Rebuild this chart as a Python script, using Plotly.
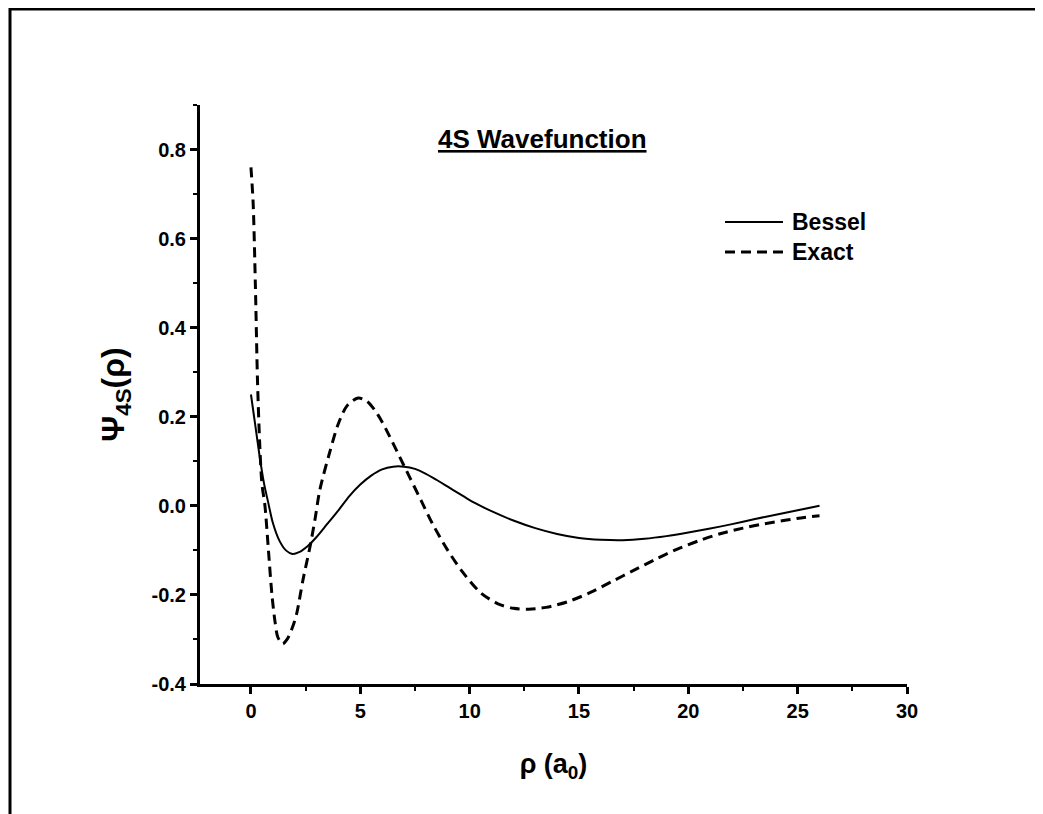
import plotly.graph_objects as go

# Bessel approximation (solid)
bessel_x = [0, 0.2, 0.4, 0.6, 0.8, 1.0, 1.3, 1.6, 1.9, 2.2, 2.6, 3.0, 3.5, 4.0, 4.5,
            5.0, 5.5, 6.0, 6.5, 7.0, 7.5, 8.0, 8.5, 9.0, 9.5, 10.0, 10.5, 11.0, 12.0,
            13.0, 14.0, 15.0, 16.0, 17.0, 18.0, 19.0, 20.0, 21.0, 22.0, 23.0, 24.0,
            25.0, 26.0]
bessel_y = [0.25, 0.18, 0.11, 0.05, 0.005, -0.038, -0.078, -0.100, -0.108, -0.104,
            -0.090, -0.070, -0.040, -0.010, 0.022, 0.048, 0.068, 0.082, 0.088, 0.088,
            0.083, 0.072, 0.058, 0.043, 0.028, 0.013, 0.000, -0.012, -0.033, -0.050,
            -0.063, -0.072, -0.076, -0.077, -0.074, -0.068, -0.060, -0.051, -0.041,
            -0.030, -0.020, -0.010, 0.000]

# Exact wavefunction (dashed)
exact_x = [0, 0.1, 0.2, 0.3, 0.4, 0.5, 0.64, 0.8, 0.96, 1.1, 1.23, 1.45, 1.65, 1.92,
           2.1, 2.38, 2.7, 2.93, 3.15, 3.6, 4.0, 4.4, 4.9, 5.3, 5.8, 6.3, 6.8, 7.3,
           7.8, 8.3, 9.0, 9.7, 10.5, 11.3, 12.0, 12.7, 13.5, 14.5, 15.5, 16.5, 17.5,
           18.5, 19.5, 20.5, 21.5, 22.5, 23.5, 24.5, 25.3, 26.0]
exact_y = [0.76, 0.68, 0.50, 0.28, 0.14, 0.05, 0.0, -0.10, -0.20, -0.26, -0.295,
           -0.310, -0.300, -0.270, -0.240, -0.166, -0.092, -0.030, 0.036, 0.120,
           0.185, 0.225, 0.242, 0.235, 0.205, 0.160, 0.110, 0.060, 0.010, -0.040,
           -0.100, -0.150, -0.195, -0.220, -0.230, -0.232, -0.228, -0.215, -0.195,
           -0.170, -0.145, -0.120, -0.097, -0.078, -0.062, -0.050, -0.040, -0.032,
           -0.026, -0.022]

series_names = ["Bessel", "Exact"]
x_tickvals = [0, 5, 10, 15, 20, 25, 30]
y_tickvals = [-0.4, -0.2, 0.0, 0.2, 0.4, 0.6, 0.8]
y_ticktext = ["-0.4", "-0.2", "0.0", "0.2", "0.4", "0.6", "0.8"]

FONT = "Liberation Sans, Arial, sans-serif"
DASH = "10px,6px"

# page body has an 8px margin; work in screen pixels and subtract it
OFF = 8
W, H = 1043 - OFF, 814 - OFF
L, R, T, B = 200 - OFF, 907 - OFF, 105 - OFF, 684 - OFF
pw, ph = R - L, B - T


def px(x):
    return (x - OFF - L) / pw


def py(y):
    return (B - (y - OFF)) / ph


fig = go.Figure()
fig.add_trace(go.Scatter(x=bessel_x, y=bessel_y, mode="lines", name=series_names[0],
                         line=dict(color="black", width=2, shape="spline", smoothing=0.8)))
fig.add_trace(go.Scatter(x=exact_x, y=exact_y, mode="lines", name=series_names[1],
                         line=dict(color="black", width=3, dash=DASH, shape="spline",
                                   smoothing=0.8)))

fig.update_layout(
    width=W, height=H,
    margin=dict(l=L, r=W - R, t=T, b=H - B, pad=0),
    paper_bgcolor="white", plot_bgcolor="white",
    font=dict(family=FONT, color="black"),
    showlegend=False,
    xaxis=dict(range=[-2.33, 30], showgrid=False, zeroline=False,
               showline=True, linecolor="black", linewidth=3,
               ticks="outside", ticklen=7, tickwidth=2.5, tickcolor="black",
               tickvals=x_tickvals, ticktext=[f"<b>{v}</b>" for v in x_tickvals],
               tickfont=dict(size=20, family=FONT),
               minor=dict(ticks="outside", ticklen=4, tickwidth=2, tickcolor="black",
                          dtick=2.5, tick0=0),
               title=dict(text="<b>ρ (a<sub>0</sub>)</b>", font=dict(size=27, family=FONT),
                          standoff=34)),
    yaxis=dict(range=[-0.4, 0.9], showgrid=False, zeroline=False,
               showline=True, linecolor="black", linewidth=3,
               ticks="outside", ticklen=7, tickwidth=2.5, tickcolor="black",
               tickvals=y_tickvals, ticktext=[f"<b>{t}</b>" for t in y_ticktext],
               tickfont=dict(size=20, family=FONT),
               minor=dict(ticks="outside", ticklen=4, tickwidth=2, tickcolor="black",
                          dtick=0.1, tick0=0),
               title=dict(text="<b>Ψ<sub>4S</sub>(ρ)</b>", font=dict(size=32, family=FONT),
                          standoff=18)),
)

# title
fig.add_annotation(text="<b><u>4S Wavefunction</u></b>", xref="paper", yref="paper",
                   x=px(542), y=py(139), xanchor="center", yanchor="middle",
                   showarrow=False, font=dict(size=26, family=FONT))

# legend (line samples + labels)
leg_rows = [(222, "solid", 2), (252, DASH, 3)]
for (ly, dash, wdt), name in zip(leg_rows, series_names):
    fig.add_shape(type="line", xref="paper", yref="paper",
                  x0=px(725), x1=px(783), y0=py(ly), y1=py(ly),
                  line=dict(color="black", width=wdt, dash=dash))
    fig.add_annotation(text=f"<b>{name}</b>", xref="paper", yref="paper",
                       x=px(790), y=py(ly), xanchor="left", yanchor="middle",
                       showarrow=False, font=dict(size=23, family=FONT))

# outer frame of the figure
fig.add_shape(type="rect", xref="paper", yref="paper",
              x0=px(10), y0=py(840), x1=px(1070), y1=py(9),
              line=dict(color="black", width=3), layer="below")

fig.write_html("out.html")
